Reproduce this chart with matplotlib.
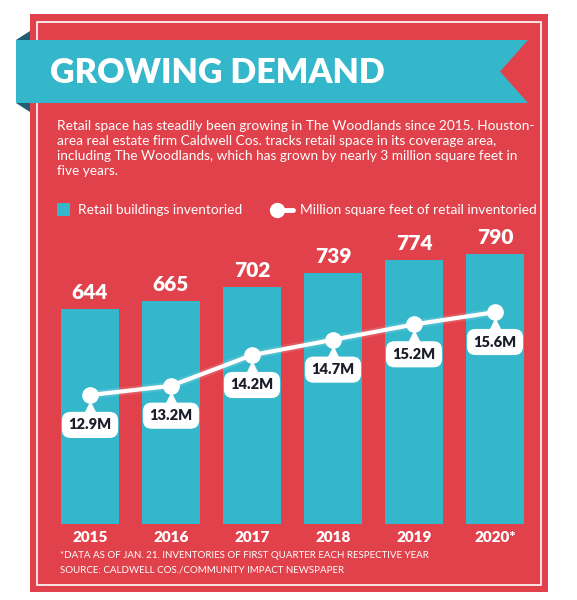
import matplotlib
matplotlib.use("Agg")
import matplotlib.pyplot as plt
import matplotlib.transforms as mtransforms
from matplotlib.patches import Rectangle, Polygon

years = ["2015", "2016", "2017", "2018", "2019", "2020*"]
buildings = [644, 665, 702, 739, 774, 790]
sqft = [12.9, 13.2, 14.2, 14.7, 15.2, 15.6]
sqft_labels = ["12.9M", "13.2M", "14.2M", "14.7M", "15.2M", "15.6M"]

title = "GROWING DEMAND"
intro = ("Retail space has steadily been growing in The Woodlands since 2015. Houston-\n"
         "area real estate firm Caldwell Cos. tracks retail space in its coverage area,\n"
         "including The Woodlands, which has grown by nearly 3 million square feet in\n"
         "five years.")
legend_bar = "Retail buildings inventoried"
legend_line = "Million square feet of retail inventoried"
note1 = "*DATA AS OF JAN. 21. INVENTORIES OF FIRST QUARTER EACH RESPECTIVE YEAR"
note2 = "SOURCE: CALDWELL COS./COMMUNITY IMPACT NEWSPAPER"

RED = "#e1414a"
TEAL = "#35b7cb"
DARK = "#1f5d70"
INK = "#1b1d2a"
W, H = 577, 600

plt.rcParams["font.family"] = ["Lato", "DejaVu Sans"]

fig = plt.figure(figsize=(W / 100, H / 100), dpi=100)
fig.patch.set_facecolor("white")

# background layer in pixel coordinates
bg = fig.add_axes([0, 0, 1, 1])
bg.set_xlim(0, W)
bg.set_ylim(H, 0)
bg.axis("off")

bg.add_patch(Rectangle((30, 14), 518, 578, fc=RED, ec="none"))
bg.add_patch(Rectangle((37, 22), 504, 563, fc="none", ec="white", lw=1.2))
# ribbon with folds
bg.add_patch(Polygon([(16, 40), (30, 31), (30, 40)], fc=DARK, ec="none"))
bg.add_patch(Polygon([(16, 103), (30, 112), (30, 103)], fc=DARK, ec="none"))
bg.add_patch(Polygon([(16, 40), (528, 40), (500, 71.5), (528, 103), (16, 103)],
                     fc=TEAL, ec="none"))
bg.text(50, 73, title, color="white", fontsize=24.5, fontweight="heavy",
        va="center", ha="left")
bg.text(57, 120, intro, color="white", fontsize=9.8, va="top", ha="left",
        linespacing=1.3)

# legend
bg.add_patch(Rectangle((57, 203), 13, 13, fc=TEAL, ec="none"))
bg.text(78, 210, legend_bar, color="white", fontsize=9.9, va="center")
bg.plot([277, 293], [210, 210], color="white", lw=3.5, solid_capstyle="round")
bg.plot([277], [210], "o", color="white", ms=10)
bg.text(300, 210, legend_line, color="white", fontsize=9.9, va="center")

bg.text(60, 555, note1, color="white", fontsize=7.0, va="center")
bg.text(60, 570, note2, color="white", fontsize=7.0, va="center")

# chart axes: x from 49.5 to 535.5 px, y from 240 to 524 px
left, right, top, bottom = 49.5, 535.5, 240, 524
ax = fig.add_axes([left / W, 1 - bottom / H, (right - left) / W, (bottom - top) / H])
ax.patch.set_alpha(0)
x = list(range(len(years)))
ax.bar(x, buildings, width=0.72, color=TEAL)
ax.set_xlim(-0.5, 5.5)
ax.set_ylim(73.2, 826.5)
for xi, v in zip(x, buildings):
    ax.annotate(str(v), (xi, v), xytext=(0, 5), textcoords="offset points",
                ha="center", va="bottom", color="white", fontsize=15,
                fontweight="heavy")
ax.set_xticks(x)
ax.set_xticklabels(years, color="white", fontsize=11, fontweight="heavy")
ax.tick_params(length=0, pad=5)
ax.set_yticks([])
for s in ax.spines.values():
    s.set_visible(False)

ax2 = ax.twinx()
ax2.set_ylim(8.70, 17.95)
ax2.set_yticks([])
for s in ax2.spines.values():
    s.set_visible(False)
ax2.plot(x, sqft, color="white", lw=6, alpha=0.12, solid_capstyle="round")
ax2.plot(x, sqft, color="white", lw=3, marker="o", ms=11,
         markerfacecolor="white", markeredgecolor="white")
tri = mtransforms.offset_copy(ax2.transData, fig=fig, x=0, y=-13, units="dots")
ax2.plot(x, sqft, linestyle="none", marker="^", ms=8, color="white",
         transform=tri)
for xi, v, lab in zip(x, sqft, sqft_labels):
    ax2.annotate(lab, (xi, v), xytext=(0, -21.5), textcoords="offset points",
                 ha="center", va="center", color=INK, fontsize=10.5,
                 fontweight="heavy",
                 bbox=dict(boxstyle="round,pad=0.45,rounding_size=0.6",
                           fc="white", ec="none"))

fig.savefig("out.png", dpi=100)
